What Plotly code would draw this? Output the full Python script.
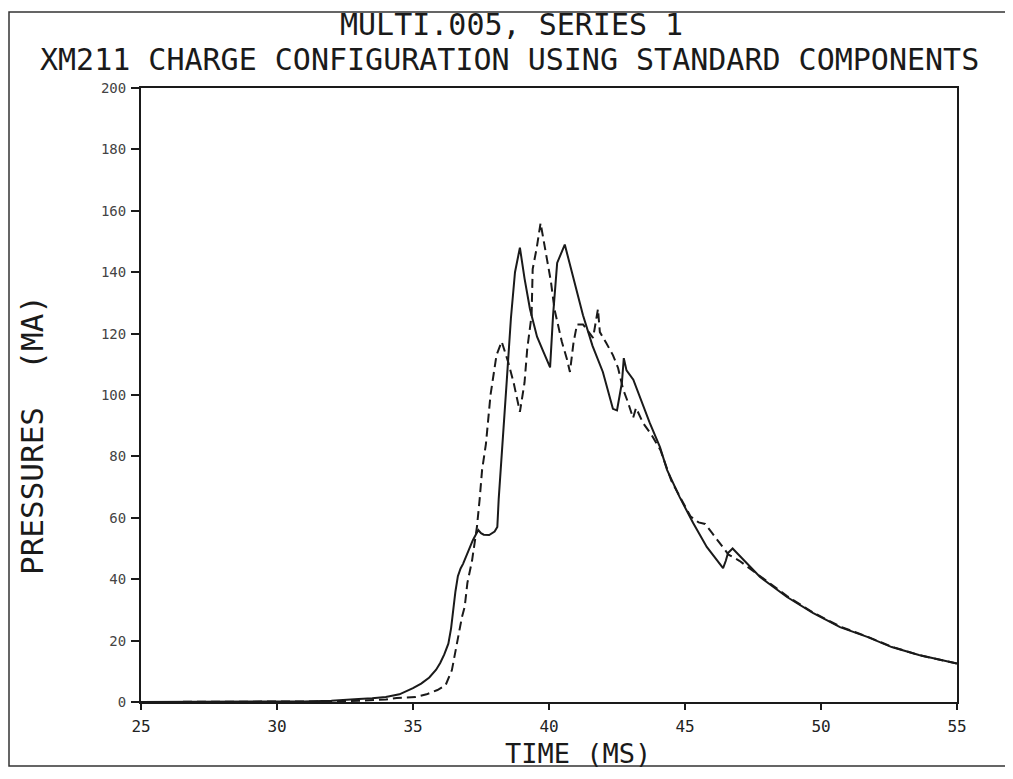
import plotly.graph_objects as go

# ---- data ----
solid_t = [25, 28, 31, 32, 32.5, 33, 33.5, 34, 34.5, 35, 35.3, 35.6, 35.85, 36.0, 36.15, 36.3, 36.4,
           36.47, 36.56, 36.65, 36.75, 36.84, 37.0, 37.2, 37.4, 37.5, 37.6, 37.8, 38.0, 38.1, 38.15,
           38.3, 38.45, 38.6, 38.75, 38.93, 39.1, 39.3, 39.56, 39.8, 40.04, 40.15, 40.3, 40.58,
           40.88, 41.25, 41.6, 41.98, 42.35, 42.5, 42.6, 42.68, 42.75, 42.85, 43.1, 43.4, 43.7,
           44.08, 44.34, 44.8, 45.3, 45.8, 46.1, 46.4, 46.5, 46.58, 46.75, 47.2, 47.76, 48.75,
           49.7, 50.7, 51.7, 52.6, 53.6, 55]
solid_p = [0, 0, 0.2, 0.4, 0.8, 1.0, 1.2, 1.6, 2.5, 4.5, 6, 8, 10.5, 12.7, 15.5, 19, 24,
           30, 36, 41, 43.5, 45, 48.5, 52.7, 56, 55, 54.5, 54.4, 55.5, 57, 66,
           84, 105, 125, 140, 148, 138, 128, 119, 114, 109, 126, 143, 149,
           138.5, 126, 116, 107.5, 95.5, 95, 100, 104, 112, 108, 105, 98, 91,
           83, 75.6, 66.8, 58.3, 50.5, 47, 43.6, 46, 48.5, 50, 46, 40.7, 34.2,
           29, 24.4, 21.2, 17.9, 15.3, 12.5]

dashed_t = [25, 30, 32, 33, 34, 34.4, 35.1, 35.5, 35.9, 36.2, 36.43, 36.55, 36.65, 36.8, 36.9,
            37.0, 37.17, 37.27, 37.35, 37.45, 37.54, 37.68, 37.85, 38.07, 38.26, 38.5, 38.7,
            38.93, 39.1, 39.2, 39.36, 39.4, 39.55, 39.69, 39.9, 40.07, 40.2, 40.33, 40.47,
            40.65, 40.77, 40.9, 41.03, 41.25, 41.45, 41.62, 41.8, 41.87, 42.1, 42.35, 42.54,
            42.72, 42.9, 43.09, 43.2, 43.45, 43.77, 44.1, 44.5, 44.8, 45.2, 45.5, 45.74, 46.0,
            46.4, 46.6, 47.0, 47.76, 48.75, 49.7, 50.7, 51.7, 52.6, 53.6, 55]
dashed_p = [0, 0, 0.2, 0.4, 0.8, 1.3, 1.6, 2.5, 3.9, 5.5, 10.4, 16, 21, 27.7, 31,
            38.8, 46, 51.8, 57, 66, 75.6, 84, 100, 113, 117.4, 110.7, 104,
            94.5, 104, 115, 126, 141, 148, 156, 145.6, 137, 128, 123, 117.4,
            112, 107.5, 117, 123, 123, 120.5, 118.6, 128, 120.5, 117, 113, 108.8,
            102, 97.7, 92.5, 95.8, 91, 87, 82, 72, 67, 60.5, 58.5, 58, 55,
            50.5, 48, 46, 41, 34.5, 29.2, 24.6, 21.3, 18, 15.3, 12.5]

x_ticks = [25, 30, 35, 40, 45, 50, 55]
x_ticktext = ["25", "30", "35", "40", "45", "50", "55"]
y_ticks = [0, 20, 40, 60, 80, 100, 120, 140, 160, 180, 200]

title_1 = "MULTI.005, SERIES 1"
title_2 = "XM211 CHARGE CONFIGURATION USING STANDARD COMPONENTS"
x_title = "TIME (MS)"
y_title = "PRESSURES  (MA)"

FONT = "DejaVu Sans Mono"
INK = "#1a1a1a"

fig = go.Figure()
fig.add_trace(go.Scatter(x=solid_t, y=solid_p, mode="lines",
                         line=dict(color=INK, width=2), showlegend=False))
fig.add_trace(go.Scatter(x=dashed_t, y=dashed_p, mode="lines",
                         line=dict(color=INK, width=2, dash="9px,5px"), showlegend=False))

OFF = 8  # page body margin
# target screen positions of the plot area
SL, SR, ST, SB = 141, 957, 88, 702
W, H = 1013 - OFF, 779 - OFF
L, T = SL - OFF, ST - OFF
pw, ph = SR - SL, SB - ST
R = W - L - pw
B = H - T - ph

def px(xs):
    return (xs - SL) / pw

def py(ys):
    return (SB - ys) / ph

fig.update_layout(
    width=W, height=H, autosize=False,
    margin=dict(l=L, r=R, t=T, b=B, pad=0),
    paper_bgcolor="white", plot_bgcolor="white",
    font=dict(family=FONT, color=INK),
    xaxis=dict(range=[25, 55], tickvals=x_ticks, ticktext=x_ticktext,
               showgrid=False, zeroline=False, showline=True, mirror=True,
               linecolor=INK, linewidth=2, ticks="outside", ticklen=6, tickwidth=1.5,
               tickcolor=INK, tickfont=dict(family=FONT, size=16, color="#222"),
               ticklabelstandoff=3),
    yaxis=dict(range=[0, 200], tickvals=y_ticks,
               showgrid=False, zeroline=False, showline=True, mirror=True,
               linecolor=INK, linewidth=2, ticks="outside", ticklen=8, tickwidth=1.5,
               tickcolor=INK, tickfont=dict(family=FONT, size=14, color="#444"),
               ticklabelstandoff=2),
)

ann = [
    (title_1, 511, 25, 30, 0),
    (title_2, 509, 60, 30, 0),
    (x_title, 578, 753, 27, 0),
    (y_title, 32, 435, 31, -90),
]
for text, xs, ys, size, ang in ann:
    fig.add_annotation(xref="paper", yref="paper", showarrow=False,
                       xanchor="center", yanchor="middle",
                       font=dict(family=FONT, color=INK, size=size),
                       text=text, x=px(xs), y=py(ys), textangle=ang)

# scanned page border
fig.add_shape(type="rect", xref="paper", yref="paper",
              x0=px(9), x1=px(1009), y0=py(766), y1=py(12),
              line=dict(color="#333", width=1.5), layer="below")

fig.write_html("out.html")
